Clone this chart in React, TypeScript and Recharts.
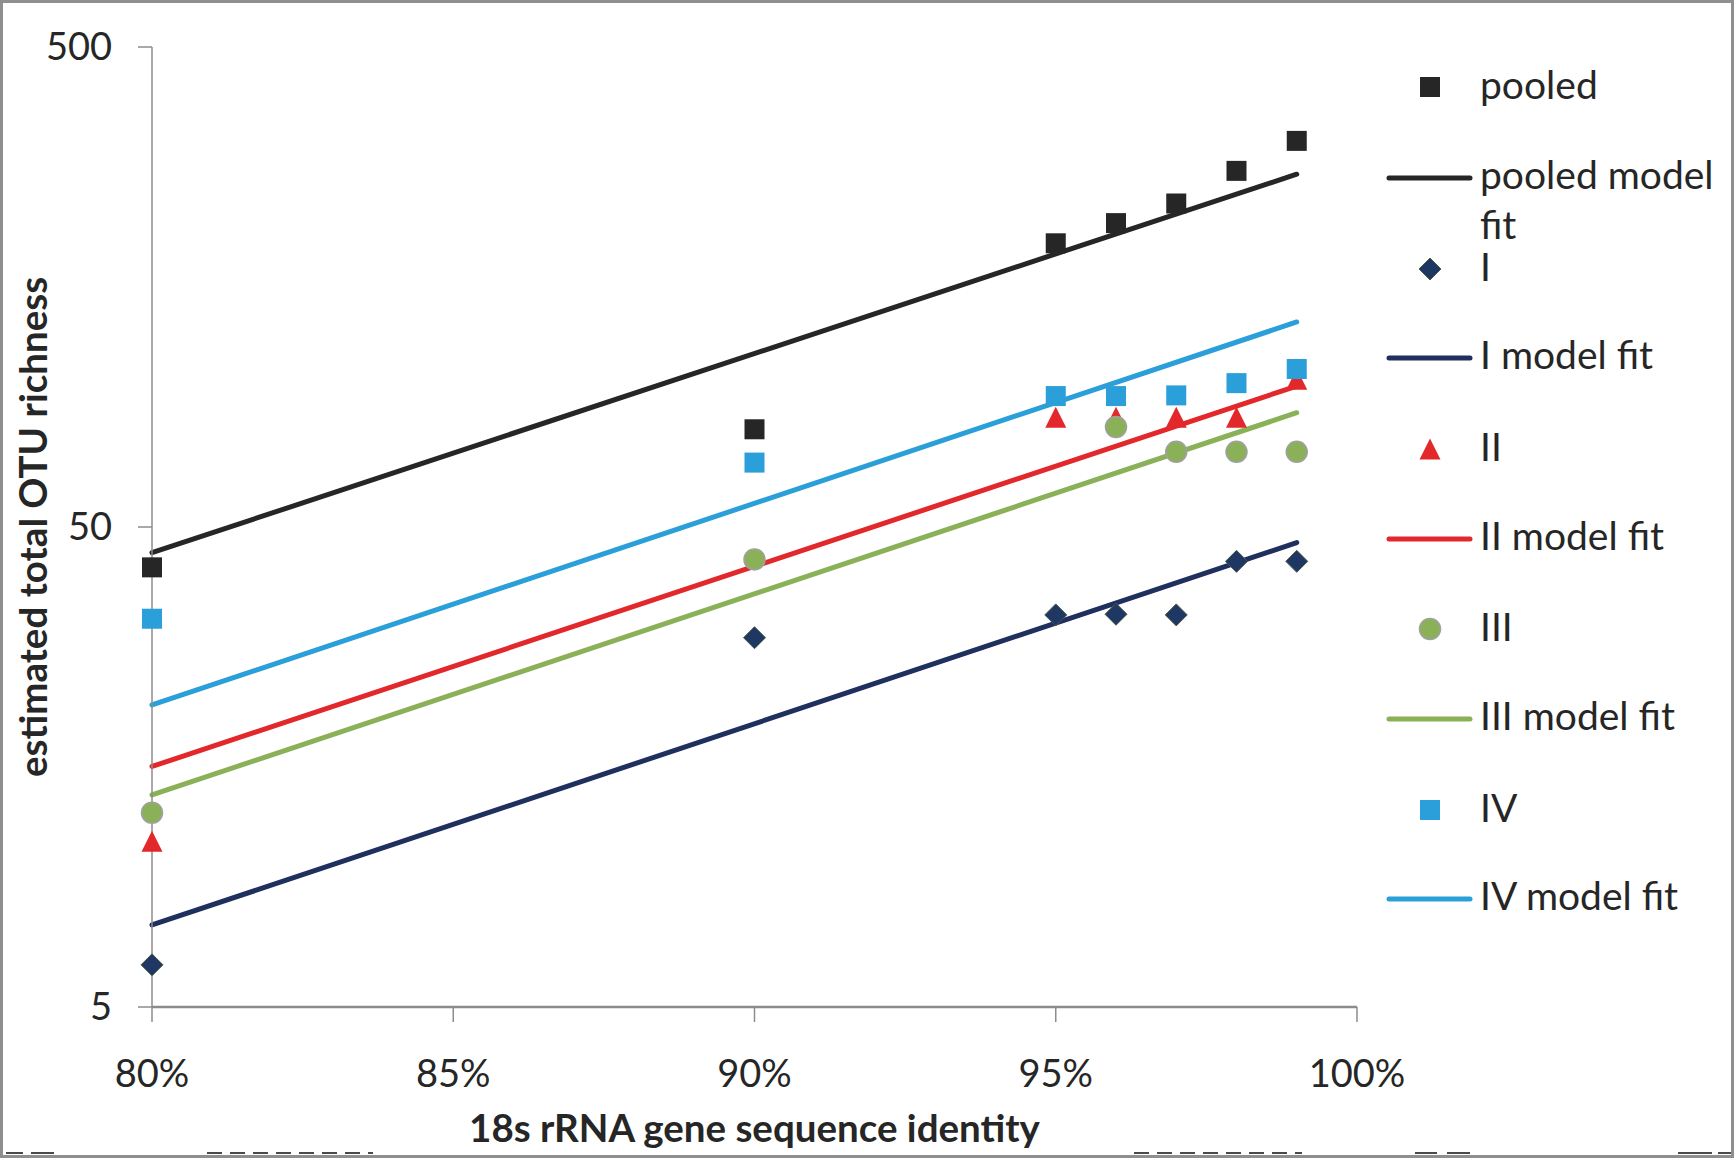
import React from 'react';
import { ComposedChart, XAxis, YAxis, Line, Scatter, Label } from 'recharts';

// ---- data ----
const identity = [0.8, 0.9, 0.95, 0.96, 0.97, 0.98, 0.99];
const pooledValues = [41.2, 79.9, 195, 214.8, 236, 276, 318.7];
const groupIValues = [6.12, 29.4, 32.8, 32.9, 32.8, 42.4, 42.4];
const groupIIIdentity = [0.8, 0.95, 0.96, 0.97, 0.98, 0.99];
const groupIIValues = [11.07, 84.6, 84.6, 84.6, 84.6, 101.6];
const groupIIIIdentity = [0.8, 0.9, 0.96, 0.97, 0.98, 0.99];
const groupIIIValues = [12.7, 42.8, 80.8, 71.7, 71.7, 71.7];
const groupIVValues = [32.2, 68.1, 93.7, 93.7, 94, 99.7, 106.7];

const fitIdentity = [0.8, 0.99];
const pooledFit = [44.2, 271.6];
const groupIFit = [7.41, 46.4];
const groupIIFit = [15.85, 98.3];
const groupIIIFit = [13.83, 86.5];
const groupIVFit = [21.3, 133.7];

const xTicks = [0.8, 0.85, 0.9, 0.95, 1.0];
const yTicks = [5, 50, 500];

const legendLabels = ['pooled', 'pooled model fit', 'I', 'I model fit', 'II', 'II model fit', 'III', 'III model fit', 'IV', 'IV model fit'];

const toPoints = (xs: number[], ys: number[]) => xs.map((x, i) => ({ x, y: ys[i] }));

const FONT = 'Lato, "Open Sans", sans-serif';
const TEXT = '#262626';
const AXIS = '#8c8c8c';

const C_POOLED = '#262626';
const C_I = '#1F3763';
const C_I_LINE = '#1F2F5E';
const C_II = '#E2282B';
const C_III = '#8BB158';
const C_IV = '#2A9FD9';
const LINE_W = 5;

// ---- marker shapes ----
const squareShape = (fill: string) => (p: any) => (
  <rect x={p.cx - 10} y={p.cy - 10} width={20} height={20} fill={fill} />
);
const diamondShape = (p: any) => (
  <polygon
    points={`${p.cx},${p.cy - 11} ${p.cx + 11},${p.cy} ${p.cx},${p.cy + 11} ${p.cx - 11},${p.cy}`}
    fill={C_I}
    stroke="#4d5a45"
    strokeWidth={1}
  />
);
const triangleShape = (p: any) => (
  <polygon
    points={`${p.cx},${p.cy - 10.5} ${p.cx + 10.5},${p.cy + 10.5} ${p.cx - 10.5},${p.cy + 10.5}`}
    fill={C_II}
  />
);
const circleShape = (p: any) => (
  <circle cx={p.cx} cy={p.cy} r={10.5} fill={C_III} stroke="#a0a0a0" strokeWidth={1.5} />
);

const pct = (v: number) => `${Math.round(v * 100)}%`;

const YTitle = (props: any) => {
  const vb = props.viewBox || { x: 0, y: 47, width: 152, height: 960 };
  const cy = vb.y + vb.height / 2;
  const cx = 47;
  return (
    <text
      x={cx}
      y={cy}
      transform={`rotate(-90 ${cx} ${cy})`}
      textAnchor="middle"
      fontFamily={FONT}
      fontWeight={700}
      fontSize={38.5}
      fill={TEXT}
    >
      estimated total OTU richness
    </text>
  );
};

// ---- legend (drawn as an overlay) ----
type LegendKind = 'square' | 'line' | 'diamond' | 'triangle' | 'circle';
const legendKinds: LegendKind[] = ['square', 'line', 'diamond', 'line', 'triangle', 'line', 'circle', 'line', 'square', 'line'];
const legendColors = [C_POOLED, C_POOLED, C_I, C_I_LINE, C_II, C_II, C_III, C_III, C_IV, C_IV];
const legendY = [87, 178, 269, 358, 449, 539, 629, 719, 810, 899];

const LegendMarker = ({ kind, color, y }: { kind: LegendKind; color: string; y: number }) => {
  const cx = 1430;
  if (kind === 'line')
    return <line x1={1389} x2={1470} y1={y} y2={y} stroke={color} strokeWidth={LINE_W} strokeLinecap="round" />;
  if (kind === 'square') return squareShape(color)({ cx, cy: y });
  if (kind === 'diamond') return diamondShape({ cx, cy: y });
  if (kind === 'triangle') return triangleShape({ cx, cy: y });
  return circleShape({ cx, cy: y });
};

const dashSegments = [
  [6, 23, 0], [31, 54, 0], [207, 373, 1], [1134, 1302, 1], [1415, 1437, 0], [1447, 1470, 0], [1678, 1712, 0], [1718, 1734, 0],
];

export default function App() {
  return (
    <div style={{ position: 'absolute', left: 0, top: 0, width: 1734, height: 1158, background: '#fff', overflow: 'hidden' }}>
      <ComposedChart width={1734} height={1158} margin={{ top: 47, right: 377, bottom: 0, left: 0 }}>
        <XAxis
          type="number"
          dataKey="x"
          domain={[0.8, 1.0]}
          ticks={xTicks}
          tickFormatter={pct}
          height={151}
          stroke={AXIS}
          strokeWidth={2.5}
          tickSize={15}
          tickMargin={38}
          tick={{ fontSize: 38, fill: TEXT, fontFamily: FONT }}
          tickLine={{ stroke: AXIS, strokeWidth: 1.5 }}
        >
          <Label
            value="18s rRNA gene sequence identity"
            position="insideBottom"
            offset={16}
            fontSize={38.5}
            fontWeight={700}
            fill={TEXT}
            fontFamily={FONT}
          />
        </XAxis>
        <YAxis
          type="number"
          dataKey="y"
          scale="log"
          domain={[5, 500]}
          ticks={yTicks}
          width={152}
          stroke={AXIS}
          strokeWidth={1.5}
          tickSize={14}
          tickMargin={26}
          tick={{ fontSize: 38, fill: TEXT, fontFamily: FONT }}
          tickLine={{ stroke: AXIS, strokeWidth: 1.5 }}
        >
          <Label content={<YTitle />} />
        </YAxis>

        <Scatter name="pooled" data={toPoints(identity, pooledValues)} dataKey="y" shape={squareShape(C_POOLED)} isAnimationActive={false} />
        <Line name="pooled model fit" data={toPoints(fitIdentity, pooledFit)} dataKey="y" type="linear" stroke={C_POOLED} strokeWidth={LINE_W} strokeLinecap="round" dot={false} activeDot={false} isAnimationActive={false} />
        <Scatter name="I" data={toPoints(identity, groupIValues)} dataKey="y" shape={diamondShape} isAnimationActive={false} />
        <Line name="I model fit" data={toPoints(fitIdentity, groupIFit)} dataKey="y" type="linear" stroke={C_I_LINE} strokeWidth={LINE_W} strokeLinecap="round" dot={false} activeDot={false} isAnimationActive={false} />
        <Scatter name="II" data={toPoints(groupIIIdentity, groupIIValues)} dataKey="y" shape={triangleShape} isAnimationActive={false} />
        <Line name="II model fit" data={toPoints(fitIdentity, groupIIFit)} dataKey="y" type="linear" stroke={C_II} strokeWidth={LINE_W} strokeLinecap="round" dot={false} activeDot={false} isAnimationActive={false} />
        <Scatter name="III" data={toPoints(groupIIIIdentity, groupIIIValues)} dataKey="y" shape={circleShape} isAnimationActive={false} />
        <Line name="III model fit" data={toPoints(fitIdentity, groupIIIFit)} dataKey="y" type="linear" stroke={C_III} strokeWidth={LINE_W} strokeLinecap="round" dot={false} activeDot={false} isAnimationActive={false} />
        <Scatter name="IV" data={toPoints(identity, groupIVValues)} dataKey="y" shape={squareShape(C_IV)} isAnimationActive={false} />
        <Line name="IV model fit" data={toPoints(fitIdentity, groupIVFit)} dataKey="y" type="linear" stroke={C_IV} strokeWidth={LINE_W} strokeLinecap="round" dot={false} activeDot={false} isAnimationActive={false} />
      </ComposedChart>

      <svg width={1734} height={1158} style={{ position: 'absolute', left: 0, top: 0, pointerEvents: 'none' }}>
        {legendLabels.map((label, i) => {
          const y = legendY[i];
          const parts = label === 'pooled model fit' ? ['pooled model', 'fit'] : [label];
          const isLine = legendKinds[i] === 'line';
          return (
            <g key={label}>
              <LegendMarker kind={legendKinds[i]} color={legendColors[i]} y={y} />
              <text x={1480} y={y + (isLine ? 11 : 12)} fontFamily={FONT} fontSize={39} fill={TEXT}>
                {parts.map((t, k) => (
                  <tspan key={k} x={1480} dy={k === 0 ? 0 : 50}>
                    {t}
                  </tspan>
                ))}
              </text>
            </g>
          );
        })}
        {dashSegments.map(([a, b, dashed], i) => (
          <line key={i} x1={a} x2={b} y1={1153} y2={1153} stroke="#4a4a4a" strokeWidth={2} strokeDasharray={dashed ? '15 8' : undefined} />
        ))}
        <rect x={1.5} y={1.5} width={1731} height={1155} fill="none" stroke="#8f8f8f" strokeWidth={3} />
      </svg>
    </div>
  );
}
